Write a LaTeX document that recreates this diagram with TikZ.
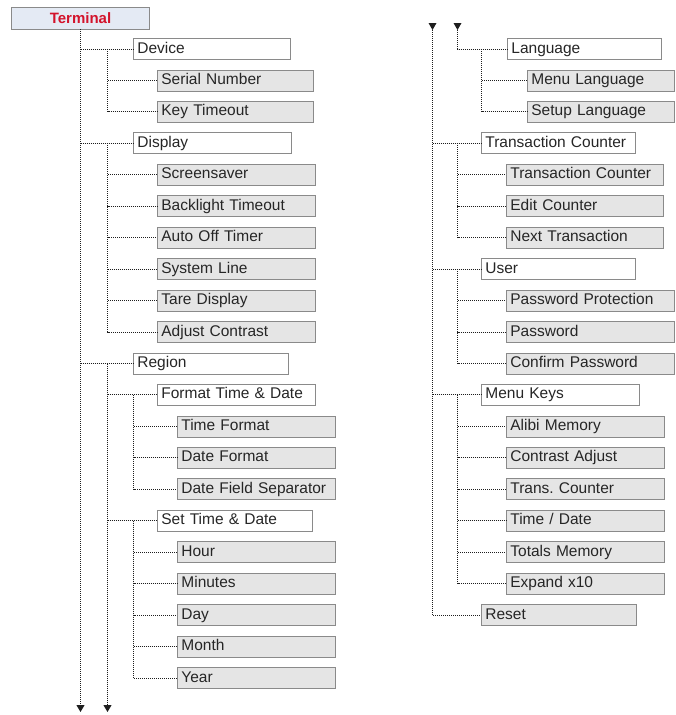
\documentclass[tikz,border=0pt]{standalone}
\usepackage{fontspec}
\setmainfont{Liberation Sans}
\usetikzlibrary{arrows.meta}
\definecolor{bordc}{HTML}{8A8A8A}
\definecolor{leafc}{HTML}{E5E5E5}
\definecolor{termc}{HTML}{E4EAF4}
\definecolor{termt}{HTML}{D3132B}
\definecolor{linec}{HTML}{1E1E1E}
\definecolor{txtc}{HTML}{262626}
\tikzset{
  base/.style={draw=bordc, line width=0.8pt, inner xsep=4pt, inner ysep=0pt,
    minimum height=21pt, align=left, text=txtc, text height=11.5pt, text depth=3.5pt,
    font=\fontsize{15.5}{16}\selectfont, anchor=west},
  box/.style={base, fill=white},
  leaf/.style={base, fill=leafc},
  termbox/.style={draw=bordc, line width=0.8pt, fill=termc, minimum width=138pt,
    minimum height=22pt, inner sep=0pt, text=termt,
    font=\fontsize{15}{16}\selectfont\bfseries},
  conn/.style={draw=linec, line width=1pt, dash pattern=on 1pt off 1pt},
  tipd/.style={-{Triangle[width=8pt,length=7pt]}},
}
\newcommand{\bx}[6]{%
  \pgfmathsetmacro{\tw}{#4-#3-8}%
  \pgfmathsetmacro{\yy}{-(49+31.45*#5)}%
  \node[#2, text width=\tw pt] (#1) at (#3pt,\yy pt) {#6};}
\begin{document}
\begin{tikzpicture}
\useasboundingbox (0,0) rectangle (675pt,-715pt);
\node[termbox] (term) at (80.5pt,-18pt) {Terminal};
% left column
\bx{device}{box}{133}{290}{0}{Device}
\bx{serial}{leaf}{157}{313}{1}{Serial Number}
\bx{keyt}{leaf}{157}{313}{2}{Key Timeout}
\bx{display}{box}{133}{291}{3}{Display}
\bx{scr}{leaf}{157}{315}{4}{Screensaver}
\bx{back}{leaf}{157}{315}{5}{Backlight Timeout}
\bx{auto}{leaf}{157}{315}{6}{Auto Off Timer}
\bx{sysl}{leaf}{157}{315}{7}{System Line}
\bx{tare}{leaf}{157}{315}{8}{Tare Display}
\bx{adj}{leaf}{157}{315}{9}{Adjust Contrast}
\bx{region}{box}{133}{288}{10}{Region}
\bx{fmt}{box}{157}{315}{11}{Format Time \& Date}
\bx{tf}{leaf}{177}{335}{12}{Time Format}
\bx{df}{leaf}{177}{335}{13}{Date Format}
\bx{dfs}{leaf}{177}{335}{14}{Date Field Separator}
\bx{set}{box}{157}{312}{15}{Set Time \& Date}
\bx{hour}{leaf}{177}{335}{16}{Hour}
\bx{minu}{leaf}{177}{335}{17}{Minutes}
\bx{day}{leaf}{177}{335}{18}{Day}
\bx{month}{leaf}{177}{335}{19}{Month}
\bx{year}{leaf}{177}{335}{20}{Year}
% right column
\bx{lang}{box}{507}{661}{0}{Language}
\bx{mlang}{leaf}{527}{674}{1}{Menu Language}
\bx{slang}{leaf}{527}{674}{2}{Setup Language}
\bx{tc}{box}{481}{635}{3}{Transaction Counter}
\bx{tcc}{leaf}{506}{663}{4}{Transaction Counter}
\bx{edit}{leaf}{506}{663}{5}{Edit Counter}
\bx{next}{leaf}{506}{663}{6}{Next Transaction}
\bx{user}{box}{481}{635}{7}{User}
\bx{pwp}{leaf}{506}{674}{8}{Password Protection}
\bx{pw}{leaf}{506}{674}{9}{Password}
\bx{cpw}{leaf}{506}{674}{10}{Confirm Password}
\bx{mkeys}{box}{481}{639}{11}{Menu Keys}
\bx{alibi}{leaf}{506}{664}{12}{Alibi Memory}
\bx{cadj}{leaf}{506}{664}{13}{Contrast Adjust}
\bx{trc}{leaf}{506}{664}{14}{Trans.\ Counter}
\bx{tdate}{leaf}{506}{664}{15}{Time / Date}
\bx{tot}{leaf}{506}{664}{16}{Totals Memory}
\bx{exp}{leaf}{506}{664}{17}{Expand x10}
\bx{reset}{leaf}{481}{636}{18}{Reset}
% trunk coordinates
\coordinate (botA) at (80.5pt,-712pt);
\coordinate (botB) at (107.5pt,-712pt);
\coordinate (topC) at (432.5pt,-30pt);
\coordinate (topD) at (457.5pt,-30pt);
% left trunk
\draw[conn,tipd] (term.south) -- (botA);
\foreach \n in {device,display,region}
  \draw[conn] (botA |- \n.west) -- (\n.west);
\foreach \n in {serial,keyt}
  \draw[conn] ([xshift=-25.5pt]device.west) |- (\n.west);
\foreach \n in {scr,back,auto,sysl,tare,adj}
  \draw[conn] ([xshift=-25.5pt]display.west) |- (\n.west);
\draw[conn,tipd] ([xshift=-25.5pt]region.west) -- (botB);
\foreach \n in {fmt,set}
  \draw[conn] (botB |- \n.west) -- (\n.west);
\foreach \n in {tf,df,dfs}
  \draw[conn] ([xshift=-23.5pt]fmt.west) |- (\n.west);
\foreach \n in {hour,minu,day,month,year}
  \draw[conn] ([xshift=-23.5pt]set.west) |- (\n.west);
% right trunks
\fill[linec] (428.5pt,-23pt) -- (436.5pt,-23pt) -- (topC) -- cycle;
\fill[linec] (453.5pt,-23pt) -- (461.5pt,-23pt) -- (topD) -- cycle;
\draw[conn] (topD) |- (lang.west);
\foreach \n in {mlang,slang}
  \draw[conn] ([xshift=-25.5pt]lang.west) |- (\n.west);
\draw[conn] (topC) |- (reset.west);
\foreach \n in {tc,user,mkeys}
  \draw[conn] (topC |- \n.west) -- (\n.west);
\foreach \n in {tcc,edit,next}
  \draw[conn] ([xshift=-23.5pt]tc.west) |- (\n.west);
\foreach \n in {pwp,pw,cpw}
  \draw[conn] ([xshift=-23.5pt]user.west) |- (\n.west);
\foreach \n in {alibi,cadj,trc,tdate,tot,exp}
  \draw[conn] ([xshift=-23.5pt]mkeys.west) |- (\n.west);
\end{tikzpicture}
\end{document}
